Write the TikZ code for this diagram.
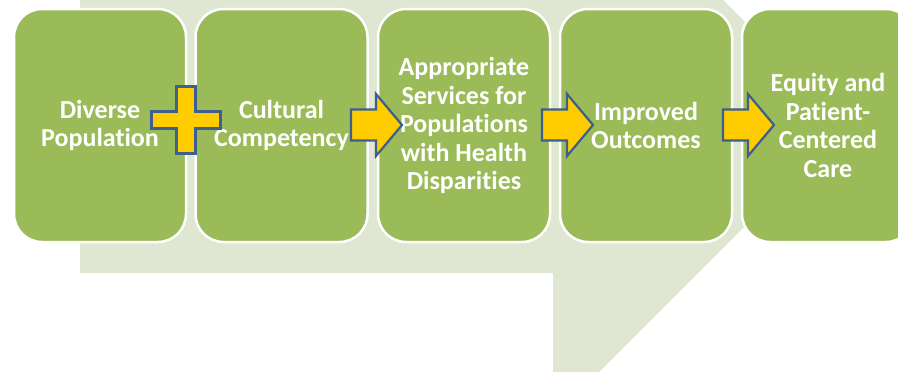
\documentclass[tikz,border=0pt]{standalone}
\usepackage{fontspec}
\setmainfont[Ligatures=NoCommon]{Carlito}
\begin{document}
\begin{tikzpicture}[x=1pt,y=-1pt,
  box/.style={draw=white,line width=2.5pt,fill=boxgreen,rounded corners=28pt,
    minimum width=172pt,minimum height=233pt,inner sep=0pt,
    text=white,align=center,font=\fontsize{26}{28.5}\selectfont\bfseries},
  yshape/.style={fill=arrowyellow,draw=arrowblue,line width=2.2pt,line join=miter}]
\definecolor{boxgreen}{HTML}{9BBB59}
\definecolor{lightgreen}{HTML}{DFE7D2}
\definecolor{arrowyellow}{HTML}{FFCC00}
\definecolor{arrowblue}{HTML}{3C5F8E}
\useasboundingbox (0,0) rectangle (898,372);
\clip (0,0) rectangle (898,372);
% background shape
\fill[lightgreen] (80,0) -- (723,0) -- (847,124) -- (599,372) -- (553,372) -- (553,273) -- (80,273) -- cycle;
% boxes
\node[box] (b1) at (100,125.5) {Diverse\\Population};
\node[box] (b2) at (281.5,125.5) {Cultural\\Competency};
\node[box] (b3) at (464,125.5) {Appropriate\\Services for\\Populations\\with Health\\Disparities};
\node[box] (b4) at (646,125.5) {Improved\\Outcomes};
\node[box] (b5) at (828,125.5) {Equity and\\Patient-\\Centered\\Care};
% plus sign
\coordinate (pc) at (186,120);
\draw[yshape] ([shift={(-9.5,-33.5)}]pc) -- ([shift={(9.5,-33.5)}]pc) -- ([shift={(9.5,-8.5)}]pc)
  -- ([shift={(34.5,-8.5)}]pc) -- ([shift={(34.5,8.5)}]pc) -- ([shift={(9.5,8.5)}]pc)
  -- ([shift={(9.5,33.5)}]pc) -- ([shift={(-9.5,33.5)}]pc) -- ([shift={(-9.5,8.5)}]pc)
  -- ([shift={(-34.5,8.5)}]pc) -- ([shift={(-34.5,-8.5)}]pc) -- ([shift={(-9.5,-8.5)}]pc) -- cycle;
% arrows
\foreach \n/\x in {a1/351,a2/542,a3/723}{
  \coordinate (\n) at (\x,125);
  \draw[yshape] ([shift={(0,-15.5)}]\n) -- ([shift={(25,-15.5)}]\n) -- ([shift={(25,-31)}]\n)
    -- ([shift={(51,0)}]\n) -- ([shift={(25,31)}]\n) -- ([shift={(25,15.5)}]\n)
    -- ([shift={(0,15.5)}]\n) -- cycle;
}
\end{tikzpicture}
\end{document}
